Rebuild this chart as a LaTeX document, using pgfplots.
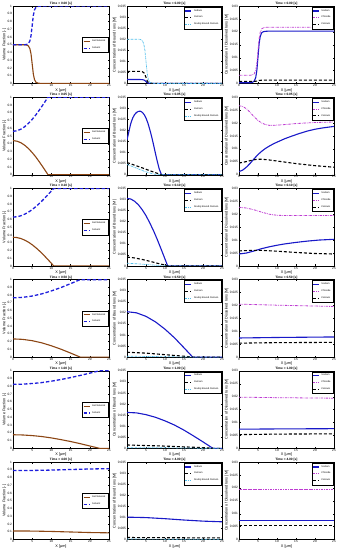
\documentclass[border=0pt]{standalone}
\usepackage{fontspec}
\setmainfont{Liberation Sans}
\usepackage{pgfplots}
\pgfplotsset{compat=1.18}
\definecolor{gelc}{RGB}{140,70,20}
\definecolor{solc}{RGB}{30,30,220}
\definecolor{nac}{RGB}{25,25,200}
\definecolor{cyc}{RGB}{80,190,235}
\definecolor{clc}{RGB}{190,60,210}
\pgfplotsset{
 every axis title shift=0pt,
 base/.style={scale only axis, width=95pt, height=77.5pt, xmin=0, xmax=25, xtick={0,5,10,15,20,25},
   no markers,
   tick label style={font=\fontsize{3.2}{3.6}\selectfont, inner sep=0.8pt},
   label style={font=\fontsize{3.8}{4.2}\selectfont},
   title style={font=\bfseries\fontsize{3.2}{3.6}\selectfont, inner sep=0.6pt},
   xlabel={X [μm]}, xlabel style={inner sep=0.5pt}, ylabel style={inner sep=0.5pt},
   legend style={font=\fontsize{2.4}{2.6}\selectfont, inner sep=0.5pt, row sep=-0.4pt, legend cell align=left, draw=black, line width=0.25pt},
   legend image code/.code={\draw[#1] (0pt,0pt) -- (6pt,0pt);},
   axis line style={line width=0.3pt}, every tick/.style={line width=0.25pt, black},
   major tick length=1.5pt,
   /pgf/number format/assume math mode=true,
   scaled y ticks=false, yticklabel style={/pgf/number format/fixed, /pgf/number format/precision=3},
 },
 c1/.style={base, ymin=0, ymax=1, ytick={0,0.1,0.2,0.3,0.4,0.5,0.6,0.7,0.8,0.9,1}, ylabel={Volume Fraction [-]}, legend style={at={(0.99,0.5)}, anchor=east}, width=96pt},
 c2/.style={base, ymin=0, ymax=0.035, ytick={0,0.005,0.01,0.015,0.02,0.025,0.03,0.035}, ylabel={Concentration of Bound Ions [M]}, legend style={at={(0.99,0.99)}, anchor=north east}},
 c3/.style={base, ymin=0, ymax=0.03, ytick={0,0.005,0.01,0.015,0.02,0.025,0.03}, ylabel={Concentration of Dissolved Ions [M]}, legend style={at={(0.99,0.99)}, anchor=north east}},
 gel/.style={gelc, line width=1.1pt},
 sol/.style={solc, line width=1.3pt, dash pattern=on 3.5pt off 2pt},
 na/.style={nac, line width=1.1pt},
 ca/.style={black, line width=1.1pt, dash pattern=on 3pt off 2pt},
 db/.style={cyc, line width=0.7pt, dash pattern=on 2pt off 0.8pt on 0.5pt off 0.8pt},
 cl/.style={clc, line width=0.8pt, dash pattern=on 2.5pt off 1pt on 0.6pt off 1pt},
}
\begin{document}
\begin{tikzpicture}
\path[use as bounding box] (0,0) rectangle (337pt,-550pt);
% ================= Row 1: t = 0.00
\begin{axis}[c1, at={(13pt,-6pt)}, anchor=north west, title={Time = 0.00 [s]}]
\addplot[gel] coordinates {(0,0.5)(3,0.5)(3.5,0.497)(4,0.485)(4.4,0.45)(4.7,0.38)(5,0.25)(5.3,0.12)(5.6,0.05)(6,0.015)(6.5,0.005)(7,0.002)(8,0)(25,0)};
\addplot[sol] coordinates {(0,0.5)(3,0.5)(3.5,0.503)(4,0.515)(4.4,0.55)(4.7,0.62)(5,0.75)(5.3,0.88)(5.6,0.95)(6,0.985)(6.5,0.995)(7,0.998)(8,1)(25,1)};
\legend{Gel Network, Solvent}
\end{axis}
\begin{axis}[c2, at={(127pt,-6pt)}, anchor=north west, title={Time = 0.00 [s]}]
\addplot[na] coordinates {(0,0.0018)(3,0.0018)(3.5,0.00179)(4,0.00175)(4.4,0.00162)(4.7,0.00137)(5,0.0009)(5.3,0.00043)(5.6,0.00018)(6,0.00005)(7,0)(25,0)};
\addplot[ca] coordinates {(0,0.0055)(3,0.0055)(3.5,0.00547)(4,0.00534)(4.4,0.00495)(4.7,0.00418)(5,0.00275)(5.3,0.00132)(5.6,0.00055)(6,0.00017)(7,0.00002)(8,0)(25,0)};
\addplot[db] coordinates {(0,0.02)(3,0.02)(3.5,0.0199)(4,0.0194)(4.4,0.018)(4.7,0.0152)(5,0.01)(5.3,0.0048)(5.6,0.002)(6,0.0006)(6.5,0.0002)(7,0.0001)(8,0)(25,0)};
\legend{Sodium, Calcium, Doubly Bound Calcium}
\end{axis}
\begin{axis}[c3, at={(239pt,-6pt)}, anchor=north west, title={Time = 0.00 [s]}]
\addplot[na] coordinates {(0,0.0003)(3,0.0003)(3.5,0.00042)(4,0.0009)(4.4,0.0023)(4.7,0.0051)(5,0.0103)(5.3,0.0155)(5.6,0.0183)(6,0.0197)(6.5,0.0201)(7,0.0202)(8,0.0203)(25,0.0203)};
\addplot[cl] coordinates {(0,0.0032)(3,0.0032)(3.5,0.00331)(4,0.00376)(4.4,0.00506)(4.7,0.00766)(5,0.0125)(5.3,0.01734)(5.6,0.01994)(6,0.0212)(6.5,0.02161)(7,0.02173)(8,0.0218)(25,0.0218)};
\addplot[ca] coordinates {(0,0.0008)(3,0.0008)(4,0.00082)(4.7,0.00092)(5,0.00105)(5.3,0.00118)(6,0.00129)(8,0.0013)(25,0.0013)};
\legend{Sodium, Chloride, Calcium}
\end{axis}
% ================= Row 2: t = 0.05
\begin{axis}[c1, at={(13pt,-97.2pt)}, anchor=north west, title={Time = 0.05 [s]}]
\addplot[gel] coordinates {(0,0.44)(1,0.433)(2,0.414)(3,0.382)(4,0.339)(5,0.286)(6,0.225)(7,0.156)(8,0.083)(9,0.008)(9.1,0)(25,0)};
\addplot[sol] coordinates {(0,0.56)(1,0.567)(2,0.586)(3,0.618)(4,0.661)(5,0.714)(6,0.775)(7,0.844)(8,0.917)(9,0.992)(9.1,1)(25,1)};
\legend{Gel Network, Solvent}
\end{axis}
\begin{axis}[c2, at={(127pt,-97.2pt)}, anchor=north west, title={Time = 0.05 [s]}]
\addplot[na] coordinates {(0,0.0157)(0.5,0.0195)(1,0.0232)(1.5,0.0256)(2,0.0272)(2.5,0.0281)(3,0.0286)(3.5,0.0287)(4,0.0282)(4.5,0.0272)(5,0.0256)(5.5,0.0233)(6,0.0204)(6.5,0.0171)(7,0.0134)(7.5,0.0095)(8,0.0058)(8.5,0.0025)(9,0.0003)(9.2,0)(25,0)};
\addplot[ca] coordinates {(0,0.0055)(2,0.0043)(4,0.0031)(6,0.0018)(8,0.0006)(9,0)(25,0)};
\addplot[db] coordinates {(0,0.0046)(1,0.004)(2,0.0033)(3,0.0026)(4,0.0019)(5,0.0013)(6,0.0008)(7,0.0003)(8,0.0001)(8.5,0)(25,0)};
\legend{Sodium, Calcium, Doubly Bound Calcium}
\end{axis}
\begin{axis}[c3, at={(239pt,-97.2pt)}, anchor=north west, title={Time = 0.05 [s]}]
\addplot[na] coordinates {(0,0.0012)(1,0.0018)(2,0.003)(3,0.0045)(4,0.0062)(5,0.0078)(6,0.0091)(7,0.0102)(8,0.0111)(9,0.0119)(10,0.0126)(12,0.0139)(14,0.015)(16,0.016)(18,0.0169)(20,0.0176)(22,0.0181)(25,0.0187)};
\addplot[cl] coordinates {(0,0.0267)(1,0.0264)(2,0.0255)(3,0.024)(4,0.0224)(5,0.021)(6,0.02)(7,0.0194)(8,0.0191)(9,0.0191)(10,0.0192)(12,0.0194)(15,0.0198)(20,0.0202)(25,0.0204)};
\addplot[ca] coordinates {(0,0.0045)(2,0.0051)(4,0.0058)(5,0.006)(6,0.006)(8,0.0057)(10,0.0053)(15,0.0043)(20,0.0035)(25,0.0029)};
\legend{Sodium, Chloride, Calcium}
\end{axis}
% ================= Row 3: t = 0.10
\begin{axis}[c1, at={(13pt,-188.4pt)}, anchor=north west, title={Time = 0.10 [s]}]
\addplot[gel] coordinates {(0,0.37)(1,0.366)(2,0.354)(3,0.334)(4,0.307)(5,0.273)(6,0.233)(7,0.188)(8,0.139)(9,0.087)(10,0.033)(10.6,0)(25,0)};
\addplot[sol] coordinates {(0,0.63)(1,0.634)(2,0.646)(3,0.666)(4,0.693)(5,0.727)(6,0.767)(7,0.812)(8,0.861)(9,0.913)(10,0.967)(10.6,1)(25,1)};
\legend{Gel Network, Solvent}
\end{axis}
\begin{axis}[c2, at={(127pt,-188.4pt)}, anchor=north west, title={Time = 0.10 [s]}]
\addplot[na] coordinates {(0,0.0305)(1,0.0302)(2,0.0292)(3,0.0276)(4,0.0254)(5,0.0227)(6,0.0194)(7,0.0158)(8,0.0118)(9,0.0075)(10,0.0031)(10.7,0)(25,0)};
\addplot[ca] coordinates {(0,0.004)(2,0.0036)(4,0.0029)(6,0.0021)(8,0.0012)(10,0.0004)(10.7,0)(25,0)};
\addplot[db] coordinates {(0,0.0012)(3,0.0009)(6,0.0005)(9,0.0001)(10.5,0)(25,0)};
\legend{Sodium, Calcium, Doubly Bound Calcium}
\end{axis}
\begin{axis}[c3, at={(239pt,-188.4pt)}, anchor=north west, title={Time = 0.10 [s]}]
\addplot[na] coordinates {(0,0.0046)(2,0.005)(4,0.0058)(6,0.0067)(8,0.0074)(10,0.008)(12,0.0085)(15,0.0091)(18,0.0096)(21,0.01)(25,0.0103)};
\addplot[cl] coordinates {(0,0.0227)(2,0.0224)(4,0.0217)(6,0.0208)(8,0.02)(10,0.0196)(12,0.0195)(15,0.0195)(20,0.0195)(25,0.0195)};
\addplot[ca] coordinates {(0,0.0058)(3,0.006)(6,0.006)(10,0.0057)(15,0.0052)(20,0.0048)(25,0.0046)};
\legend{Sodium, Chloride, Calcium}
\end{axis}
% ================= Row 4: t = 0.50
\begin{axis}[c1, at={(13pt,-279.6pt)}, anchor=north west, title={Time = 0.50 [s]}]
\addplot[gel] coordinates {(0,0.235)(2.5,0.229)(5,0.212)(7.5,0.184)(10,0.146)(12.5,0.102)(15,0.052)(17.5,0)(25,0)};
\addplot[sol] coordinates {(0,0.765)(2.5,0.771)(5,0.788)(7.5,0.816)(10,0.854)(12.5,0.898)(15,0.948)(17.5,1)(25,1)};
\legend{Gel Network, Solvent}
\end{axis}
\begin{axis}[c2, at={(127pt,-279.6pt)}, anchor=north west, title={Time = 0.50 [s]}]
\addplot[na] coordinates {(0,0.0205)(2.5,0.02)(5,0.0184)(7.5,0.0159)(10,0.0126)(12.5,0.0087)(15,0.0042)(17.3,0)(25,0)};
\addplot[ca] coordinates {(0,0.0022)(5,0.0018)(10,0.0011)(15,0.0004)(17.3,0)(25,0)};
\addplot[db] coordinates {(0,0.0004)(10,0.0002)(17,0)(25,0)};
\legend{Sodium, Calcium, Doubly Bound Calcium}
\end{axis}
\begin{axis}[c3, at={(239pt,-279.6pt)}, anchor=north west, title={Time = 0.50 [s]}]
\addplot[na] coordinates {(0,0.0074)(10,0.0076)(25,0.0078)};
\addplot[cl] coordinates {(0,0.0205)(10,0.0201)(25,0.0196)};
\addplot[ca] coordinates {(0,0.0054)(10,0.0056)(25,0.0057)};
\legend{Sodium, Chloride, Calcium}
\end{axis}
% ================= Row 5: t = 1.00
\begin{axis}[c1, at={(13pt,-370.8pt)}, anchor=north west, title={Time = 1.00 [s]}]
\addplot[gel] coordinates {(0,0.175)(2.5,0.172)(5,0.164)(7.5,0.152)(10,0.134)(12.5,0.112)(15,0.0875)(17.5,0.06)(20,0.03)(22.5,0)(25,0)};
\addplot[sol] coordinates {(0,0.825)(2.5,0.828)(5,0.836)(7.5,0.848)(10,0.866)(12.5,0.888)(15,0.9125)(17.5,0.94)(20,0.97)(22.5,1)(25,1)};
\legend{Gel Network, Solvent}
\end{axis}
\begin{axis}[c2, at={(127pt,-370.8pt)}, anchor=north west, title={Time = 1.00 [s]}]
\addplot[na] coordinates {(0,0.0162)(2.5,0.016)(5,0.0152)(7.5,0.014)(10,0.0124)(12.5,0.0105)(15,0.0082)(17.5,0.0056)(20,0.0029)(22.6,0)(25,0)};
\addplot[ca] coordinates {(0,0.0015)(10,0.001)(20,0.0003)(22.6,0)(25,0)};
\addplot[db] coordinates {(0,0.0003)(12,0.0002)(22,0)(25,0)};
\legend{Sodium, Calcium, Doubly Bound Calcium}
\end{axis}
\begin{axis}[c3, at={(239pt,-370.8pt)}, anchor=north west, title={Time = 1.00 [s]}]
\addplot[na] coordinates {(0,0.0074)(10,0.0075)(25,0.0076)};
\addplot[cl] coordinates {(0,0.0198)(10,0.0196)(25,0.0194)};
\addplot[ca] coordinates {(0,0.0053)(10,0.0055)(25,0.0056)};
\legend{Sodium, Chloride, Calcium}
\end{axis}
% ================= Row 6: t = 4.00
\begin{axis}[c1, at={(13pt,-462pt)}, anchor=north west, title={Time = 4.00 [s]}]
\addplot[gel] coordinates {(0,0.11)(5,0.109)(10,0.104)(15,0.097)(20,0.09)(25,0.086)};
\addplot[sol] coordinates {(0,0.89)(5,0.891)(10,0.896)(15,0.903)(20,0.91)(25,0.914)};
\legend{Gel Network, Solvent}
\end{axis}
\begin{axis}[c2, at={(127pt,-462pt)}, anchor=north west, title={Time = 4.00 [s]}]
\addplot[na] coordinates {(0,0.0101)(5,0.0099)(10,0.0094)(15,0.0088)(20,0.0083)(25,0.008)};
\addplot[ca] coordinates {(0,0.0009)(12,0.0008)(25,0.0007)};
\addplot[db] coordinates {(0,0.0002)(25,0.0001)};
\legend{Sodium, Calcium, Doubly Bound Calcium}
\end{axis}
\begin{axis}[c3, at={(239pt,-462pt)}, anchor=north west, title={Time = 4.00 [s]}]
\addplot[na] coordinates {(0,0.0075)(25,0.0075)};
\addplot[cl] coordinates {(0,0.0195)(25,0.0195)};
\addplot[ca] coordinates {(0,0.0055)(25,0.0055)};
\legend{Sodium, Chloride, Calcium}
\end{axis}
\end{tikzpicture}
\end{document}
